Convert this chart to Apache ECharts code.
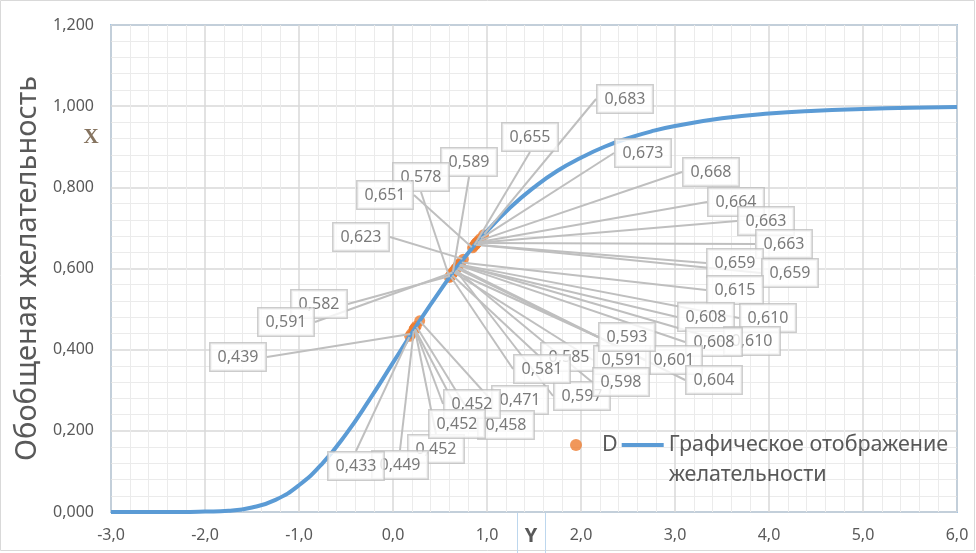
<!DOCTYPE html>
<html><head><meta charset="utf-8">
<script src="https://cdn.jsdelivr.net/npm/echarts@6/dist/echarts.min.js"></script>
<style>html,body{margin:0;padding:0;background:#fff}#c{width:976px;height:553px}</style>
</head><body><div id="c"></div>
<script>
// ---- data ----
const xTickLabels = ['-3,0','-2,0','-1,0','0,0','1,0','2,0','3,0','4,0','5,0','6,0'];
const yTickLabels = ['0,000','0,200','0,400','0,600','0,800','1,000','1,200'];

// curve "Графическое отображение желательности"
const curveX = [-3,-2.75,-2.5,-2.25,-2,-1.75,-1.5,-1.25,-1,-0.75,-0.5,-0.25,0,0.25,0.5,0.75,1,1.25,1.5,1.75,2,2.25,2.5,2.75,3,3.5,4,4.5,5,5.5,6];
const curveY = [0.000,0.000,0.000,0.000,0.001,0.003,0.011,0.030,0.066,0.120,0.192,0.277,0.368,0.459,0.545,0.624,0.692,0.751,0.800,0.841,0.873,0.900,0.921,0.938,0.951,0.970,0.982,0.989,0.993,0.996,0.998];

// points "D" (value of desirability and position on Y)
const pointD = [0.683,0.655,0.673,0.668,0.664,0.663,0.663,0.659,0.659,0.615,0.608,0.610,0.610,0.608,0.585,0.601,0.591,0.593,0.604,0.597,0.598,0.581,0.471,0.458,0.452,0.452,0.452,0.449,0.433,0.439,0.582,0.591,0.623,0.589,0.578,0.651];
const pointY = [0.964,0.860,0.926,0.908,0.893,0.889,0.889,0.875,0.875,0.721,0.698,0.705,0.705,0.698,0.623,0.675,0.643,0.649,0.685,0.662,0.665,0.611,0.284,0.247,0.231,0.231,0.231,0.222,0.178,0.194,0.614,0.643,0.748,0.636,0.601,0.846];

// label box centres (layout, px)
const labelPos = [[625,99],[530,137],[643,153],[711,172],[736,202],[766,221],[784,244],[735,263],[790,273],[735,290],[706,317],[768,318],[752,341],[714,342],[569,357],[674,360],[622,360],[627,337],[714,380],[582,396],[621,382],[542,369],[520,400],[506,425],[472,404],[436,449],[457,424],[400,465],[356,466],[238,357],[319,304],[286,322],[361,237],[469,162],[421,177],[385,195]];

const curveName = 'Графическое отображение желательности';
const fmt3 = v => v.toFixed(3).replace('.', ',');

const chart = echarts.init(document.getElementById('c'));
const pts = pointY.map((x, i) => [x, pointD[i]]);
const option = {
  animation: false,
  textStyle: {fontFamily: 'Noto Sans'},
  grid: {left: 111, right: 19, top: 25, bottom: 41, show: true, borderColor: '#5b9bd5', borderWidth: 1.5},
  xAxis: {
    type: 'value', min: -3, max: 6, interval: 1,
    axisLine: {show: false}, axisTick: {show: false},
    axisLabel: {color: '#595959', fontSize: 16, margin: 15, formatter: v => xTickLabels[Math.round(v + 3)]},
    splitLine: {lineStyle: {color: '#d9d9d9', width: 1.5}},
    minorTick: {show: false, splitNumber: 5},
    minorSplitLine: {show: true, lineStyle: {color: '#ebebeb', width: 1}}
  },
  yAxis: {
    type: 'value', min: 0, max: 1.2, interval: 0.2,
    name: 'Обобщеная желательность', nameLocation: 'middle', nameGap: 66,
    nameTextStyle: {fontSize: 29, color: '#595959'},
    axisLine: {show: false}, axisTick: {show: false},
    axisLabel: {color: '#595959', fontSize: 16, margin: 17, formatter: v => yTickLabels[Math.round(v / 0.2)]},
    splitLine: {lineStyle: {color: '#d9d9d9', width: 1.5}},
    minorTick: {show: false, splitNumber: 5},
    minorSplitLine: {show: true, lineStyle: {color: '#ebebeb', width: 1}}
  },
  legend: {
    left: 565, top: 395, padding: 5, itemGap: 4, itemWidth: 42, itemHeight: 12,
    textStyle: {fontSize: 21.5, color: '#595959', lineHeight: 30},
    formatter: n => n === curveName ? '\u00a0\nГрафическое отображение\nжелательности' : n,
    data: [
      {name: 'D', icon: 'circle'},
      {name: curveName, icon: 'path://M0,0L0.01,0L0.01,0.01Z M0,4H42V8H0Z M42,12L41.99,12L41.99,11.99Z'}
    ]
  },
  graphic: [
    {type: 'rect', silent: true, shape: {x: 0.5, y: 0.5, width: 974, height: 550}, style: {fill: 'none', stroke: '#d9d9d9', lineWidth: 1}},
    {type: 'line', silent: true, shape: {x1: 517.5, y1: 513, x2: 517.5, y2: 553}, style: {stroke: '#bdd7ee', lineWidth: 1}},
    {type: 'line', silent: true, shape: {x1: 545.5, y1: 513, x2: 545.5, y2: 553}, style: {stroke: '#bdd7ee', lineWidth: 1}},
    {type: 'text', silent: true, x: 531, y: 536, style: {text: 'Y', fontSize: 20, fontWeight: 'bold', fontFamily: 'Liberation Sans Narrow, Noto Sans', fill: '#595959', align: 'center', verticalAlign: 'middle'}},
    {type: 'text', silent: true, x: 91, y: 138, style: {text: 'X', fontSize: 21, fontWeight: 'bold', fontFamily: 'Liberation Serif', fill: '#85735f', align: 'center', verticalAlign: 'middle'}}
  ],
  series: [
    {name: 'D', type: 'scatter', data: pts, symbolSize: 11, itemStyle: {color: '#ed7d31'}, z: 2, silent: true},
    {name: curveName, type: 'line', data: curveX.map((x, i) => [x, curveY[i]]), smooth: true,
     symbol: 'none', lineStyle: {color: '#5b9bd5', width: 4}, itemStyle: {color: '#5b9bd5'}, z: 3, silent: true},
    {name: 'labels', type: 'scatter', data: pts, symbolSize: 2, itemStyle: {color: 'rgba(0,0,0,0)'}, z: 4, silent: true,
     label: {show: true, formatter: p => fmt3(p.value[1]), fontSize: 16, color: '#595959', backgroundColor: '#fff',
             borderColor: '#bfbfbf', borderWidth: 1.5, padding: [4, 7, 3, 7], lineHeight: 20},
     labelLine: {show: true, lineStyle: {color: '#bfbfbf', width: 2}},
     labelLayout: function (p) {
       const pos = labelPos[p.dataIndex];
       const w = p.labelRect.width, h = p.labelRect.height;
       const px = p.rect.x + p.rect.width / 2, py = p.rect.y + p.rect.height / 2;
       const x0 = pos[0] - w / 2, y0 = pos[1] - h / 2;
       const ex = Math.min(Math.max(px, x0), x0 + w), ey = Math.min(Math.max(py, y0), y0 + h);
       return {x: pos[0], y: pos[1], align: 'center', verticalAlign: 'middle', labelLinePoints: [[px, py], [ex, ey], [ex, ey]]};
     }
    }
  ]
};
chart.setOption(option);
</script></body></html>
